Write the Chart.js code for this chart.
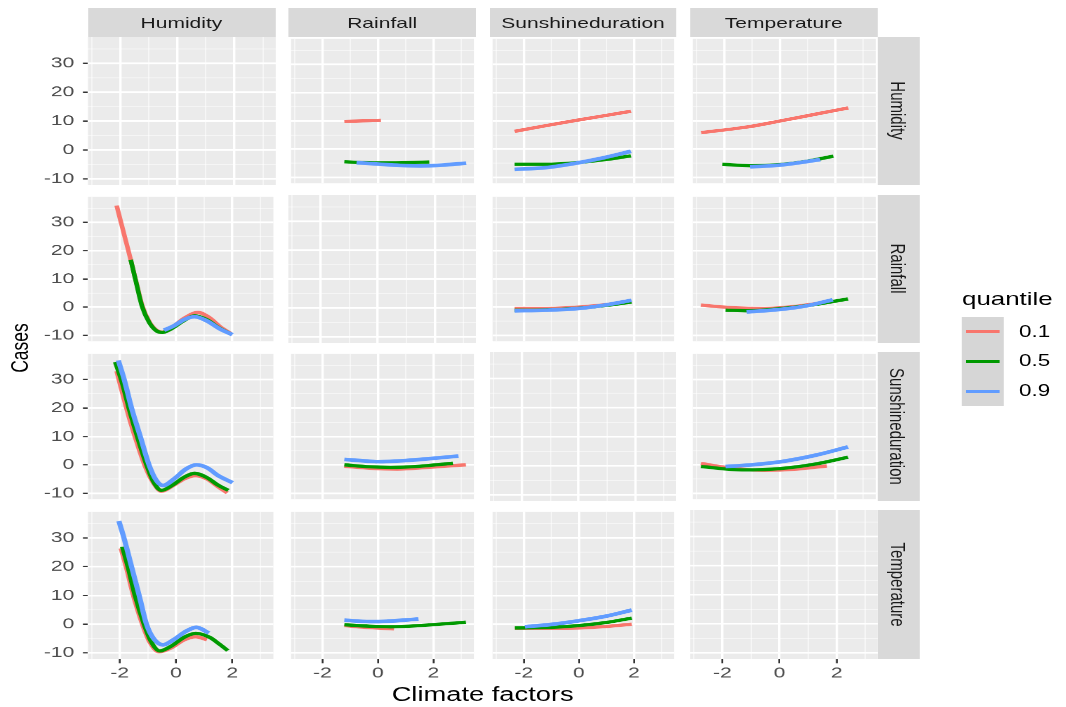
<!DOCTYPE html>
<html lang="en">
<head>
<meta charset="UTF-8">
<title>Quantile curves by climate factor</title>
<script src="https://cdn.jsdelivr.net/npm/chart.js"></script>
<style>
  html, body { margin: 0; padding: 0; background: #fff; overflow: hidden; }
  /* the reference picture is stretched horizontally, so the whole page is too */
  #page { position: relative; width: 762px; height: 707px; transform: scaleX(1.4); transform-origin: 0 0;
          font-family: 'Liberation Sans', Arial, Helvetica, sans-serif; color: #000; }
  #page > div { position: absolute; }
  .strip { background: #D9D9D9; color: #1A1A1A; font-size: 15px; display: flex;
           align-items: center; justify-content: center; white-space: nowrap; }
  .side span { display: block; transform: rotate(90deg); }
  .txt { white-space: nowrap; }
</style>
</head>
<body>
<div id="page"></div>

<script>
const S = 1.4;

const facets = ['Humidity', 'Rainfall', 'Sunshineduration', 'Temperature'];
const quantiles = ['0.1', '0.5', '0.9'];
const qColors = ['#F8766D', '#009900', '#619CFF'];

const xBreaks = [-2, 0, 2];
const xMinorBreaks = [-3, -1, 1, 3];
const yBreaks = [-10, 0, 10, 20, 30];
const yMinorBreaks = [-5, 5, 15, 25, 35];
const xLimits = [-3.13, 3.46];
const yLimits = [-12.1, 39.1];

// curves: row facet (response) + column facet (climate factor on x), one per quantile
const humRain01 = [[-1.21, 9.8], [-0.55, 10.0], [0.11, 10.2]];
const humRain05 = [[-1.21, -4.5], [-0.5, -4.8], [0.3, -4.9], [1.1, -4.8], [1.85, -4.6]];
const humRain09 = [[-0.77, -4.8], [0.0, -5.3], [0.8, -5.8], [1.53, -6.0], [2.3, -5.7], [3.18, -5.0]];

const humSun01 = [[-2.33, 6.3], [-1.2, 8.3], [-0.15, 10.1], [0.9, 11.8], [1.89, 13.4]];
const humSun05 = [[-2.33, -5.4], [-1.2, -5.4], [-0.15, -4.9], [0.9, -3.8], [1.89, -2.4]];
const humSun09 = [[-2.33, -7.2], [-1.2, -6.6], [-0.15, -5.1], [0.9, -3.1], [1.89, -0.8]];

const humTemp01 = [[-2.83, 5.8], [-1.07, 8.0], [-0.07, 9.8], [1.46, 12.7], [2.47, 14.6]];
const humTemp05 = [[-2.07, -5.4], [-1.07, -5.9], [0.0, -5.5], [1.0, -4.3], [1.93, -2.5]];
const humTemp09 = [[-1.07, -6.3], [0.0, -5.7], [0.8, -4.7], [1.46, -3.7]];

const rainHum01 = [[-2.11, 36.0], [-1.85, 26.0], [-1.61, 16.8], [-1.4, 8.3], [-1.2, 0.5], [-0.95, -5.2], [-0.7, -8.2],
                   [-0.49, -8.9], [-0.2, -7.6], [0.3, -3.9], [0.78, -1.9], [1.2, -3.8], [1.6, -7.2], [1.95, -9.4]];
const rainHum05 = [[-1.61, 16.8], [-1.4, 8.0], [-1.2, 0.0], [-0.95, -5.5], [-0.7, -8.4], [-0.49, -9.0], [-0.2, -7.9],
                   [0.3, -4.7], [0.66, -3.1], [1.1, -4.5], [1.55, -7.5], [1.96, -9.6]];
const rainHum09 = [[-0.43, -8.2], [-0.1, -6.8], [0.3, -4.4], [0.66, -3.4], [1.1, -4.9], [1.55, -7.7], [2.0, -9.8]];

const rainSun01 = [[-2.33, -0.5], [-1.2, -0.5], [0.0, 0.0], [1.0, 0.9], [1.91, 2.0]];
const rainSun05 = [[-2.33, -1.1], [-1.2, -1.0], [0.0, -0.4], [1.0, 0.6], [1.91, 1.8]];
const rainSun09 = [[-2.33, -1.3], [-1.2, -1.1], [0.0, -0.5], [1.0, 0.8], [1.91, 2.4]];

const rainTemp01 = [[-2.84, 0.7], [-1.7, -0.2], [-0.54, -0.5], [0.6, 0.3], [1.8, 1.9]];
const rainTemp05 = [[-1.95, -1.1], [-1.13, -1.3], [0.05, -0.5], [1.2, 0.8], [2.46, 2.9]];
const rainTemp09 = [[-1.19, -1.7], [0.05, -0.8], [1.0, 0.5], [1.91, 2.6]];

const sunHum01 = [[-2.11, 33.0], [-1.9, 25.0], [-1.65, 16.0], [-1.35, 6.5], [-1.08, -1.0], [-0.8, -6.5], [-0.52, -9.3],
                  [-0.1, -7.3], [0.3, -4.9], [0.7, -3.8], [1.1, -5.0], [1.5, -7.8], [1.82, -9.9]];
const sunHum05 = [[-2.16, 36.2], [-1.92, 29.0], [-1.65, 19.0], [-1.35, 9.0], [-1.05, 0.0], [-0.8, -6.0], [-0.52, -9.0],
                  [-0.1, -7.0], [0.3, -4.3], [0.66, -3.0], [1.1, -4.5], [1.5, -7.2], [1.86, -9.0]];
const sunHum09 = [[-2.05, 36.8], [-1.84, 30.0], [-1.58, 20.0], [-1.27, 10.0], [-0.96, 0.0], [-0.7, -5.5], [-0.46, -7.3],
                  [-0.05, -4.8], [0.35, -1.5], [0.72, 0.0], [1.1, -1.0], [1.5, -3.8], [2.01, -6.3]];

const sunRain01 = [[-1.21, -0.5], [-0.3, -1.2], [0.7, -1.5], [1.8, -0.9], [3.17, 0.0]];
const sunRain05 = [[-1.21, 0.0], [-0.3, -0.7], [0.46, -0.9], [1.5, -0.5], [2.7, 0.55]];
const sunRain09 = [[-1.21, 1.9], [-0.4, 1.3], [0.0, 1.1], [1.0, 1.5], [2.0, 2.3], [2.9, 3.1]];

const sunTemp01 = [[-2.84, 0.45], [-1.7, -1.2], [-0.54, -1.9], [0.6, -1.5], [1.7, -0.4]];
const sunTemp05 = [[-2.84, -0.6], [-1.36, -1.8], [0.05, -1.3], [1.3, 0.3], [2.46, 2.7]];
const sunTemp09 = [[-1.95, -0.6], [-1.0, 0.0], [0.05, 1.1], [1.3, 3.4], [2.46, 6.3]];

const tempHum01 = [[-1.96, 26.4], [-1.75, 19.0], [-1.52, 10.0], [-1.2, 0.0], [-0.95, -6.0], [-0.6, -9.6], [-0.2, -8.4],
                   [0.3, -5.4], [0.7, -4.4], [1.1, -5.4]];
const tempHum05 = [[-1.91, 27.0], [-1.7, 19.5], [-1.46, 10.0], [-1.14, 0.0], [-0.9, -5.8], [-0.58, -9.3], [-0.2, -7.8],
                   [0.3, -4.5], [0.7, -3.2], [1.2, -4.6], [1.55, -7.0], [1.84, -9.2]];
const tempHum09 = [[-2.03, 35.9], [-1.85, 30.0], [-1.58, 20.0], [-1.31, 10.0], [-1.05, 0.0], [-0.8, -5.0], [-0.46, -7.2],
                   [-0.1, -5.5], [0.35, -2.5], [0.72, -1.1], [1.17, -3.1]];

const tempRain01 = [[-1.21, -0.5], [-0.3, -1.2], [0.58, -1.6]];
const tempRain05 = [[-1.21, -0.2], [-0.3, -0.7], [0.46, -0.9], [1.5, -0.5], [3.17, 0.7]];
const tempRain09 = [[-1.21, 1.4], [-0.3, 0.9], [0.3, 1.0], [1.46, 1.8]];

const tempSun01 = [[-2.32, -1.4], [-1.0, -1.4], [0.0, -1.3], [1.0, -0.8], [1.92, 0.0]];
const tempSun05 = [[-2.32, -1.3], [-1.0, -1.1], [0.0, -0.5], [1.0, 0.6], [1.92, 2.1]];
const tempSun09 = [[-1.96, -0.9], [-1.0, -0.1], [0.0, 1.2], [1.0, 2.8], [1.92, 4.9]];

const panels = {
  'Humidity/Rainfall': [humRain01, humRain05, humRain09],
  'Humidity/Sunshineduration': [humSun01, humSun05, humSun09],
  'Humidity/Temperature': [humTemp01, humTemp05, humTemp09],
  'Rainfall/Humidity': [rainHum01, rainHum05, rainHum09],
  'Rainfall/Sunshineduration': [rainSun01, rainSun05, rainSun09],
  'Rainfall/Temperature': [rainTemp01, rainTemp05, rainTemp09],
  'Sunshineduration/Humidity': [sunHum01, sunHum05, sunHum09],
  'Sunshineduration/Rainfall': [sunRain01, sunRain05, sunRain09],
  'Sunshineduration/Temperature': [sunTemp01, sunTemp05, sunTemp09],
  'Temperature/Humidity': [tempHum01, tempHum05, tempHum09],
  'Temperature/Rainfall': [tempRain01, tempRain05, tempRain09],
  'Temperature/Sunshineduration': [tempSun01, tempSun05, tempSun09]
};

// layout, in pixels of the (stretched) reference
const colLeft = [87.7, 288.5, 489.3, 690.1], PW = 187.5;
const rowTop = [36.7, 194.5, 352.3, 510.1], PH = 148.5;
const YAX = 50, XAX = 24;

const page = document.getElementById('page');
function box(cls, l, t, w, h, html) {
  const d = document.createElement('div');
  d.className = cls;
  Object.assign(d.style, { left: l / S + 'px', top: t + 'px', width: w / S + 'px', height: h + 'px' });
  if (html !== undefined) d.innerHTML = html;
  page.appendChild(d);
  return d;
}

Chart.defaults.font.family = "'Liberation Sans', Arial, Helvetica, sans-serif";

const panelBg = {
  id: 'panelBg',
  beforeDraw(chart) {
    const { ctx, chartArea: a } = chart;
    ctx.save();
    ctx.fillStyle = '#EBEBEB';
    ctx.fillRect(a.left, a.top, a.width, a.height);
    ctx.restore();
  }
};

const tickList = (major, minor) => major.concat(minor).sort((a, b) => a - b).map(v => ({ value: v }));
const isMajor = (ctx, major) => !!ctx.tick && major.includes(ctx.tick.value);

function gridOpts(major, withTicks, tickLen) {
  return {
    color: ctx => isMajor(ctx, major) ? '#FFFFFF' : 'rgba(255,255,255,0.7)',
    lineWidth: ctx => isMajor(ctx, major) ? 1.7 : 0.8,
    drawTicks: withTicks,
    tickLength: tickLen,
    tickWidth: 1.3,
    tickColor: ctx => isMajor(ctx, major) ? '#333333' : 'rgba(0,0,0,0)'
  };
}

// strips
facets.forEach((f, c) => box('strip', colLeft[c], 8, PW, 28.7, '<span>' + f + '</span>'));
facets.forEach((f, r) => box('strip side', colLeft[3] + PW, rowTop[r], 41.7, PH, '<span>' + f + '</span>'));

// panels
facets.forEach((rowName, r) => facets.forEach((colName, c) => {
  const left = c === 0 ? YAX : 0;
  const bottom = r === 3 ? XAX : 0;
  const wrap = box('panel', colLeft[c] - left, rowTop[r], PW + left, PH + bottom);
  const cv = document.createElement('canvas');
  wrap.appendChild(cv);
  const curves = panels[rowName + '/' + colName] || [];

  new Chart(cv, {
    type: 'line',
    data: {
      datasets: curves.map((pts, i) => ({
        label: quantiles[i],
        data: pts.map(([x, y]) => ({ x, y })),
        borderColor: qColors[i],
        borderWidth: i === 2 ? 3.7 : 3.3,
        order: 2 - i,
        pointRadius: 0,
        fill: false,
        cubicInterpolationMode: 'monotone'
      }))
    },
    options: {
      responsive: true,
      maintainAspectRatio: false,
      animation: false,
      devicePixelRatio: 2,
      layout: { padding: 0 },
      events: [],
      plugins: { legend: { display: false }, tooltip: { enabled: false } },
      scales: {
        x: {
          type: 'linear', min: xLimits[0], max: xLimits[1],
          afterBuildTicks: s => { s.ticks = tickList(xBreaks, xMinorBreaks); },
          afterFit: s => { s.height = bottom; s.paddingLeft = 0; s.paddingRight = 0; },
          border: { display: false },
          grid: gridOpts(xBreaks, r === 3, 4.3),
          ticks: {
            display: r === 3, autoSkip: false, maxRotation: 0, padding: 1,
            color: '#4D4D4D', font: { size: 15 },
            callback: v => xBreaks.includes(v) ? String(v) : ''
          }
        },
        y: {
          type: 'linear', min: yLimits[0], max: yLimits[1],
          afterBuildTicks: s => { s.ticks = tickList(yBreaks, yMinorBreaks); },
          afterFit: s => { s.width = left / S; s.paddingTop = 0; s.paddingBottom = 0; },
          border: { display: false },
          grid: gridOpts(yBreaks, c === 0, 3.6),
          ticks: {
            display: c === 0, autoSkip: false, padding: 6.2,
            color: '#4D4D4D', font: { size: 15 },
            callback: v => yBreaks.includes(v) ? String(v) : ''
          }
        }
      }
    },
    plugins: [panelBg]
  });
}));

// axis titles
const xt = box('txt', 382.7, 682, 200, 24, 'Climate factors');
Object.assign(xt.style, { fontSize: '19.5px', lineHeight: '24px', textAlign: 'center' });
const yt = box('txt', 19 - 70, 335.5, 140, 24, 'Cases');
Object.assign(yt.style, { fontSize: '17.5px', lineHeight: '24px', textAlign: 'center', transform: 'rotate(-90deg)' });

// legend
const lt = box('txt', 962, 287.6, 110, 22, 'quantile');
Object.assign(lt.style, { fontSize: '18.5px', lineHeight: '22px' });
const keys = box('keys', 961.7, 316.7, 42.6, 89);
keys.style.background = '#D6D6D6';
quantiles.forEach((q, i) => {
  const y = 331.7 + i * 29.7;
  const ln = box('key', 966, y - 1.6, 34, 3.2);
  ln.style.background = qColors[i];
  const lb = box('txt', 1019, y - 10, 45, 20, q);
  Object.assign(lb.style, { fontSize: '16px', lineHeight: '20px' });
});
</script>
</body>
</html>
